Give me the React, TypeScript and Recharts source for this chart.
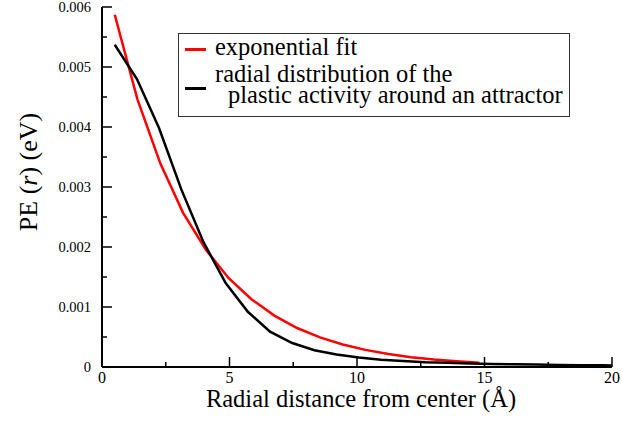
import React from "react";
import { LineChart, Line, XAxis, YAxis, Legend } from "recharts";

// exponential fit (red)
const fitX = [0.5, 1.39, 2.29, 3.18, 4.08, 4.97, 5.86, 6.76, 7.65, 8.55, 9.44, 10.33, 11.23, 12.12, 13.02, 13.91, 14.8];
const fitY = [0.00587, 0.00446, 0.00339, 0.00257, 0.00195, 0.00148, 0.00113, 0.000856, 0.00065, 0.000494, 0.000375, 0.000285, 0.000216, 0.000164, 0.000125, 0.000095, 0.000072];

// radial distribution (black)
const radX = [0.5, 1.37, 2.24, 3.11, 3.98, 4.85, 5.72, 6.59, 7.46, 8.33, 9.2, 10.07, 10.94, 11.81, 12.68, 13.55, 14.42, 15.29, 16.16, 17.03, 17.9, 18.77, 19.64, 20];
const radY = [0.00537, 0.0048, 0.00398, 0.00296, 0.00208, 0.0014, 0.00092, 0.00059, 0.0004, 0.00028, 0.00021, 0.00016, 0.00012, 0.0001, 0.00008, 0.00007, 0.00006, 0.00005, 0.000045, 0.00004, 0.000035, 0.00003, 0.000028, 0.000027];

const xTicks = [0, 2.5, 5, 7.5, 10, 12.5, 15, 17.5, 20];
const yTicks = [0, 0.0005, 0.001, 0.0015, 0.002, 0.0025, 0.003, 0.0035, 0.004, 0.0045, 0.005, 0.0055, 0.006];

const fitData = fitX.map((x, i) => ({ x, y: fitY[i] }));
const radData = radX.map((x, i) => ({ x, y: radY[i] }));

const FONT = '"Liberation Serif", "Times New Roman", serif';

const isMajorX = (v: number) => v % 5 === 0;
const isMajorY = (v: number) => Math.round(v * 10000) % 10 === 0;

const BottomTick = (p: any) => {
  const v = p.payload.value;
  const major = isMajorX(v);
  return (
    <g>
      <line x1={p.x} x2={p.x} y1={p.y} y2={p.y - (major ? 10 : 5)} stroke="#000" strokeWidth={1.5} />
      {major && (
        <text x={p.x} y={p.y + 16} textAnchor="middle" fontSize={16} fontFamily={FONT} fill="#000">
          {v}
        </text>
      )}
    </g>
  );
};

const TopTick = (p: any) => {
  const major = isMajorX(p.payload.value);
  return <line x1={p.x} x2={p.x} y1={p.y} y2={p.y + (major ? 10 : 5)} stroke="#000" strokeWidth={1.5} />;
};

const LeftTick = (p: any) => {
  const v = p.payload.value;
  const major = isMajorY(v);
  return (
    <g>
      <line x1={p.x} x2={p.x + (major ? 10 : 5)} y1={p.y} y2={p.y} stroke="#000" strokeWidth={1.5} />
      {major && (
        <text x={p.x - 11} y={p.y + 5} textAnchor="end" fontSize={14.5} fontFamily={FONT} fill="#000">
          {v === 0 ? "0" : v.toFixed(3)}
        </text>
      )}
    </g>
  );
};

const RightTick = (p: any) => {
  const major = isMajorY(p.payload.value);
  return <line x1={p.x} x2={p.x - (major ? 10 : 5)} y1={p.y} y2={p.y} stroke="#000" strokeWidth={1.5} />;
};

const LegendBox = (props: any) => {
  const items = props.payload || [];
  const rowTop = [2, 29];
  const sampleY = [15, 54];
  return (
    <div
      style={{
        border: "1px solid #333",
        width: 390,
        height: 82,
        background: "#fff",
        fontFamily: FONT,
        fontSize: 24.5,
        lineHeight: "21px",
        color: "#000",
        position: "relative",
      }}
    >
      {items.map((it: any, i: number) => {
        const lines = String(it.value).split("\n");
        return (
          <React.Fragment key={i}>
            <div style={{ position: "absolute", left: 6, top: sampleY[i] - 1, width: 21, height: 2.5, background: it.color }} />
            <div style={{ position: "absolute", left: 36, top: rowTop[i], whiteSpace: "pre" }}>
              {lines.map((l, j) => (
                <div key={j} style={{ paddingLeft: j > 0 ? 13 : 0 }}>
                  {l}
                </div>
              ))}
            </div>
          </React.Fragment>
        );
      })}
    </div>
  );
};

export default function App() {
  return (
    <div style={{ position: "absolute", left: 0, top: 0, background: "#fff" }}>
      <LineChart width={622} height={422} margin={{ top: 7, right: 10, bottom: 25, left: 42 }}>
        <XAxis
          type="number"
          dataKey="x"
          domain={[0, 20]}
          ticks={xTicks}
          interval={0}
          tickSize={0}
          tickMargin={0}
          height={30}
          axisLine={{ stroke: "#000", strokeWidth: 2 }}
          tick={BottomTick}
          allowDataOverflow
          label={(lp: any) => {
            const vb = lp.viewBox || {};
            return (
              <text x={vb.x + vb.width / 2 + 4} y={407} textAnchor="middle" fontSize={24.5} fontFamily={FONT} fill="#000">
                Radial distance from center (Å)
              </text>
            );
          }}
        />
        <XAxis
          xAxisId="top"
          orientation="top"
          type="number"
          domain={[0, 20]}
          ticks={xTicks}
          interval={0}
          tickSize={0}
          tickMargin={0}
          height={0}
          axisLine={{ stroke: "#000", strokeWidth: 2 }}
          tick={TopTick}
          allowDataOverflow
        />
        <YAxis
          type="number"
          dataKey="y"
          domain={[0, 0.006]}
          ticks={yTicks}
          interval={0}
          tickSize={0}
          tickMargin={0}
          width={60}
          axisLine={{ stroke: "#000", strokeWidth: 2 }}
          tick={LeftTick}
          allowDataOverflow
          label={(lp: any) => {
            const vb = lp.viewBox || {};
            const cx = 28;
            const cy = vb.y + vb.height / 2 - 15;
            return (
              <text x={cx} y={cy} transform={`rotate(-90 ${cx} ${cy})`} textAnchor="middle" dominantBaseline="central" fontSize={26} fontFamily={FONT} fill="#000">
                PE (<tspan fontStyle="italic">r</tspan>) (eV)
              </text>
            );
          }}
        />
        <YAxis
          yAxisId="right"
          orientation="right"
          type="number"
          domain={[0, 0.006]}
          ticks={yTicks}
          interval={0}
          tickSize={0}
          tickMargin={0}
          width={0}
          axisLine={{ stroke: "#000", strokeWidth: 2 }}
          tick={RightTick}
          allowDataOverflow
        />
        <Legend
          verticalAlign="middle"
          align="center"
          layout="horizontal"
          content={LegendBox}
          wrapperStyle={{ position: "absolute", left: 178, top: 33, width: 392, height: 84 }}
        />
        <Line
          data={fitData}
          dataKey="y"
          name="exponential fit"
          stroke="#ff0000"
          strokeWidth={2.5}
          dot={false}
          isAnimationActive={false}
        />
        <Line
          data={radData}
          dataKey="y"
          name={"radial distribution of the\nplastic activity around an attractor"}
          stroke="#000"
          strokeWidth={2.5}
          dot={false}
          isAnimationActive={false}
        />
      </LineChart>
    </div>
  );
}
